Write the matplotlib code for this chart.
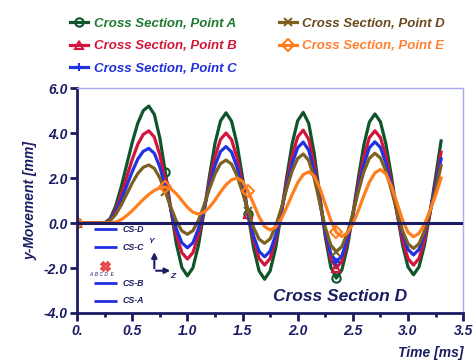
import numpy as np
import matplotlib
matplotlib.use('Agg')
import matplotlib.pyplot as plt

plt.rcParams['font.family'] = ['Liberation Sans', 'DejaVu Sans']

# === data ===
t_ms = np.round(np.arange(0, 67) * 0.05, 2)

point_a = [0, 0, 0, 0, 0, 0, 0.20, 0.76, 1.61, 2.60, 3.59, 4.44, 5.00, 5.20,
           4.83, 3.78, 2.26, 0.59, -0.93, -1.98, -2.35, -1.99, -0.99, 0.47, 2.08, 3.54, 4.54,
           4.90, 4.53, 3.51, 2.02, 0.38, -1.11, -2.13, -2.50, -2.13, -1.11, 0.39, 2.03, 3.53,
           4.55, 4.92, 4.43, 3.08, 1.24, -0.61, -1.96, -2.45, -2.09, -1.08, 0.39, 2.01, 3.48,
           4.49, 4.85, 4.50, 3.51, 2.07, 0.48, -0.96, -1.95, -2.30, -1.95, -0.97, 0.46, 2.04, 3.65]
point_b = [0, 0, 0, 0, 0, 0, 0.16, 0.60, 1.27, 2.05, 2.83, 3.50, 3.94, 4.10,
           3.82, 3.03, 1.88, 0.62, -0.53, -1.32, -1.60, -1.32, -0.55, 0.58, 1.82, 2.95, 3.72,
           4.00, 3.71, 2.90, 1.72, 0.41, -0.77, -1.58, -1.87, -1.57, -0.74, 0.46, 1.80, 3.00,
           3.83, 4.13, 3.72, 2.60, 1.07, -0.47, -1.59, -2.00, -1.70, -0.85, 0.37, 1.73, 2.95,
           3.80, 4.10, 3.80, 2.98, 1.78, 0.45, -0.75, -1.58, -1.87, -1.57, -0.75, 0.45, 1.78, 3.15]
point_c = [0, 0, 0, 0, 0, 0, 0.13, 0.49, 1.03, 1.66, 2.29, 2.84, 3.19, 3.32,
           3.10, 2.49, 1.60, 0.62, -0.27, -0.88, -1.10, -0.88, -0.25, 0.65, 1.65, 2.55, 3.18,
           3.40, 3.16, 2.48, 1.49, 0.41, -0.58, -1.26, -1.50, -1.25, -0.54, 0.48, 1.62, 2.64,
           3.35, 3.60, 3.24, 2.27, 0.94, -0.39, -1.36, -1.72, -1.46, -0.72, 0.35, 1.54, 2.61,
           3.35, 3.61, 3.36, 2.66, 1.65, 0.54, -0.47, -1.17, -1.42, -1.17, -0.48, 0.53, 1.65, 2.85]
point_d = [0, 0, 0, 0, 0, 0, 0.10, 0.38, 0.80, 1.29, 1.78, 2.20, 2.48, 2.58,
           2.43, 2.00, 1.38, 0.70, 0.08, -0.35, -0.50, -0.34, 0.12, 0.78, 1.52, 2.18, 2.64,
           2.80, 2.62, 2.10, 1.36, 0.54, -0.20, -0.72, -0.90, -0.70, -0.15, 0.64, 1.53, 2.32,
           2.87, 3.07, 2.78, 1.99, 0.90, -0.19, -0.98, -1.27, -1.05, -0.45, 0.43, 1.40, 2.28,
           2.88, 3.10, 2.89, 2.31, 1.46, 0.52, -0.34, -0.92, -1.13, -0.92, -0.34, 0.52, 1.46, 2.55]
point_e = [0, 0, 0, 0, 0, 0, 0, 0.04, 0.15, 0.33, 0.55, 0.80, 1.05, 1.27, 1.45, 1.56,
           1.60, 1.52, 1.30, 1.00, 0.70, 0.48, 0.40, 0.48, 0.70, 1.02, 1.38, 1.70, 1.92,
           2.00, 1.85, 1.42, 0.85, 0.27, -0.16, -0.31, -0.18, 0.18, 0.70, 1.27, 1.79, 2.15,
           2.28, 2.09, 1.56, 0.84, 0.12, -0.41, -0.60, -0.45, -0.04, 0.56, 1.22, 1.82, 2.23,
           2.38, 2.18, 1.63, 0.89, 0.14, -0.41, -0.61, -0.46, -0.04, 0.56, 1.23, 2.00]

labels = ['Cross Section, Point A', 'Cross Section, Point B', 'Cross Section, Point C',
          'Cross Section, Point D', 'Cross Section, Point E']
colors = ['#0e552c', '#d3143c', '#1f33e0', '#7d5f1e', '#ff7f1e']
text_colors = ['#1f7a30', '#d01838', '#2030d8', '#6a4a1e', '#ff8030']
markers = ['o', '^', '+', 'x', 'D']
mark_idx = [0, 16, 31, 47]

cs_names = ['CS-D', 'CS-C', 'CS-B', 'CS-A']
cs_y = [-0.28, -1.08, -2.68, -3.45]

navy = '#1c1c64'

# === figure ===
fig = plt.figure(figsize=(4.76, 3.61), dpi=100)
ax = fig.add_axes([0.162, 0.133, 0.811, 0.623])

series = [point_a, point_b, point_c, point_d, point_e]
handles = []
for y, lab, c, m in zip(series, labels, colors, markers):
    h, = ax.plot(t_ms, y, color=c, lw=2.3, marker=m, markevery=mark_idx,
                 markersize=6, markerfacecolor='none', markeredgewidth=1.5,
                 label=lab, zorder=2)
    handles.append(h)

ax.axhline(0, color=navy, lw=2.2, zorder=3)

# inset sketch bottom-left
for name, yy in zip(cs_names, cs_y):
    ax.plot([0.15, 0.36], [yy, yy], color='#2030e0', lw=2, solid_capstyle='butt')
    ax.text(0.41, yy, name, color=navy, fontsize=6.3, style='italic',
            fontweight='bold', va='center', ha='left')
ax.plot([0.254], [-1.91], marker='X', color='#e03030', markersize=7, alpha=0.8)
ax.text(0.22, -2.27, 'A  B C D  E', color=navy, fontsize=3.5, style='italic',
        ha='center', va='center')
ax.annotate('', xy=(0.70, -1.17), xytext=(0.70, -2.14),
            arrowprops=dict(arrowstyle='-|>', color=navy, lw=1.5, mutation_scale=8))
ax.annotate('', xy=(0.87, -2.12), xytext=(0.69, -2.12),
            arrowprops=dict(arrowstyle='-|>', color=navy, lw=1.5, mutation_scale=8))
ax.text(0.67, -0.8, 'Y', color=navy, fontsize=6, style='italic', fontweight='bold',
        ha='center', va='center')
ax.text(0.87, -2.38, 'Z', color=navy, fontsize=6, style='italic', fontweight='bold',
        ha='center', va='center')

ax.text(2.38, -3.28, 'Cross Section D', color=navy, fontsize=12.5, style='italic',
        fontweight='bold', ha='center', va='center')

# axes styling
ax.set_xlim(0, 3.5)
ax.set_ylim(-4, 6)
ax.set_xticks(np.arange(0, 3.51, 0.5))
ax.set_xticklabels(['0.', '0.5', '1.0', '1.5', '2.0', '2.5', '3.0', '3.5'])
ax.set_xticks(np.arange(0.25, 3.5, 0.5), minor=True)
ax.set_yticks([-4, -2, 0, 2, 4, 6])
ax.set_yticklabels(['-4.0', '-2.0', '0.0', '2.0', '4.0', '6.0'])

for lab in ax.get_xticklabels() + ax.get_yticklabels():
    lab.set_fontweight('bold')
    lab.set_style('italic')
    lab.set_color(navy)
    lab.set_fontsize(10)

ax.tick_params(which='major', direction='out', length=5, width=2, color=navy, pad=2)
ax.tick_params(which='minor', direction='out', length=3, width=2, color=navy)
ax.tick_params(axis='x', which='major', length=6)

for s in ['left', 'bottom']:
    ax.spines[s].set_color(navy)
    ax.spines[s].set_linewidth(2)
for s in ['top', 'right']:
    ax.spines[s].set_color('#a8a8f0')
    ax.spines[s].set_linewidth(1)

ax.set_ylabel('y-Movement [mm]', color=navy, fontsize=10, fontweight='bold',
              style='italic', labelpad=4)
ax.set_xlabel('Time [ms]', color=navy, fontsize=10, fontweight='bold',
              style='italic', loc='right', labelpad=6)

leg = fig.legend(handles=handles, loc='upper left', bbox_to_anchor=(0.122, 0.985),
                 ncol=2, frameon=False, handlelength=1.4, handletextpad=0.4,
                 columnspacing=3.2, labelspacing=0.8,
                 prop={'family': 'Liberation Sans', 'weight': 'bold',
                       'style': 'italic', 'size': 9.5})
for txt, tc in zip(leg.get_texts(), text_colors):
    txt.set_color(tc)

fig.savefig('out.png', dpi=100)
